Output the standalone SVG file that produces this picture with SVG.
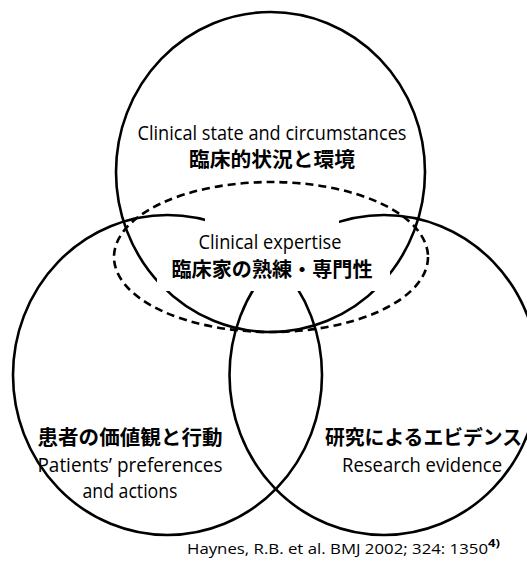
<svg xmlns="http://www.w3.org/2000/svg" width="527" height="570" viewBox="0 0 527 570">
<style>
.c{fill:none;stroke:#000;stroke-width:2.6}
.d{fill:none;stroke:#000;stroke-width:2.6;stroke-dasharray:8 5}
.en{font-family:"Open Sans","Liberation Sans",sans-serif;font-size:19.5px;fill:#000;text-anchor:middle}
.jp{font-family:"Noto Sans CJK JP","Noto Sans CJK SC",sans-serif;font-size:20px;font-weight:bold;fill:#000;text-anchor:middle}
.ref{font-family:"Open Sans","Liberation Sans",sans-serif;font-size:15px;fill:#000}
</style>
<rect width="527" height="570" fill="#fff"/>
<g id="connectors">
<ellipse class="c" cx="270.5" cy="172" rx="154.5" ry="160"/>
<ellipse class="c" cx="167.5" cy="375" rx="154.5" ry="160"/>
<ellipse class="c" cx="384" cy="375" rx="154.5" ry="160"/>
<rect x="205" y="214" width="134" height="44" fill="#fff"/>
<rect x="157" y="256" width="233" height="35" fill="#fff"/>
</g>
<g id="node-expertise">
<ellipse class="d" cx="271" cy="257" rx="157" ry="75"/>
<text class="en" x="270" y="249" textLength="143" lengthAdjust="spacingAndGlyphs">Clinical expertise</text>
<text class="jp" x="272" y="277" textLength="201" lengthAdjust="spacingAndGlyphs">臨床家の熟練・専門性</text>
</g>
<g id="node-clinical-state">
<text class="en" x="272" y="140" textLength="269" lengthAdjust="spacingAndGlyphs">Clinical state and circumstances</text>
<text class="jp" x="272" y="167" textLength="166" lengthAdjust="spacingAndGlyphs">臨床的状況と環境</text>
</g>
<g id="node-patients">
<text class="jp" x="130" y="445" textLength="185" lengthAdjust="spacingAndGlyphs">患者の価値観と行動</text>
<text class="en" x="130" y="472" textLength="185" lengthAdjust="spacingAndGlyphs">Patients’ preferences</text>
<text class="en" x="130" y="498" textLength="95" lengthAdjust="spacingAndGlyphs">and actions</text>
</g>
<g id="node-research">
<text class="jp" x="423.5" y="445" textLength="197" lengthAdjust="spacingAndGlyphs">研究によるエビデンス</text>
<text class="en" x="422" y="472" textLength="160" lengthAdjust="spacingAndGlyphs">Research evidence</text>
</g>
<g id="citation">
<text class="ref" x="187" y="554" textLength="301" lengthAdjust="spacingAndGlyphs">Haynes, R.B. et al. BMJ 2002; 324: 1350</text>
<text class="ref" x="488" y="547" textLength="12" lengthAdjust="spacingAndGlyphs" style="font-size:10px;font-weight:bold">4)</text>
</g>
</svg>
